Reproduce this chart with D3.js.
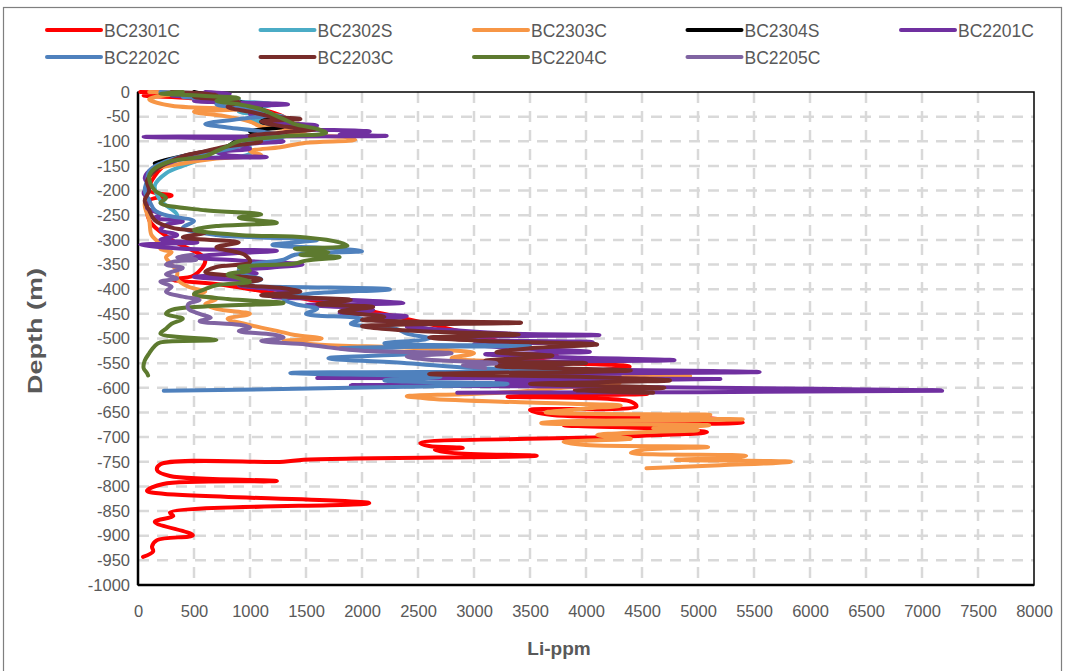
<!DOCTYPE html>
<html>
<head>
<meta charset="utf-8">
<script src="https://cdn.jsdelivr.net/npm/d3@7"></script>
<style>
  html, body { margin: 0; padding: 0; background: #fff; }
  svg text { font-family: "Liberation Sans", Arial, sans-serif; fill: #595959; }
</style>
</head>
<body>
<svg id="chart" width="1065" height="671"></svg>
<script>
// Li concentration (ppm) against depth (m) for each drill hole: [depth, Li-ppm]
const BC2301C = [[0,20],[-3,600],[-7,50],[-12,450],[-18,700],[-25,900],[-35,1100],[-50,1300],[-70,1400],[-90,1200],[-110,900],[-140,300],[-170,150],[-200,100],[-210,300],[-220,100],[-260,100],[-300,300],[-340,600],[-372,500],[-380,300],[-392,780],[-420,1500],[-450,2200],[-487,2900],[-510,3300],[-534,3740],[-545,3400],[-557,4390],[-575,3800],[-590,4100],[-605,3900],[-612,4550],[-618,3300],[-628,4400],[-638,4450],[-645,3500],[-655,3700],[-662,5100],[-670,5400],[-676,3800],[-684,4800],[-690,5080],[-700,4200],[-712,2520],[-718,2600],[-722,2900],[-726,2650],[-732,2800],[-738,3560],[-746,1480],[-750,1300],[-755,200],[-767,170],[-779,285],[-789,1240],[-795,225],[-809,80],[-815,225],[-834,2065],[-853,285],[-860,315],[-872,150],[-899,490],[-909,170],[-922,125],[-932,135],[-943,45]];
const BC2302S = [[0,300],[-8,800],[-15,500],[-25,1200],[-40,900],[-50,1300],[-60,1000],[-75,1500],[-90,1250],[-105,1000],[-125,1000],[-135,600],[-150,400],[-165,250],[-190,150],[-220,200],[-250,350],[-270,250]];
const BC2303C = [[0,100],[-3,400],[-8,200],[-15,100],[-28,300],[-35,900],[-40,500],[-50,800],[-60,1000],[-70,1100],[-78,1500],[-85,1300],[-92,1870],[-97,1940],[-103,1500],[-112,1270],[-120,1000],[-128,1100],[-135,700],[-145,400],[-158,150],[-175,100],[-200,80],[-230,60],[-260,100],[-290,120],[-305,180],[-318,200],[-325,300],[-335,250],[-350,300],[-365,350],[-380,350],[-395,450],[-405,600],[-412,500],[-420,700],[-430,600],[-440,700],[-450,1000],[-460,800],[-470,950],[-478,1100],[-485,1250],[-493,1400],[-500,1640],[-505,1300],[-512,1600],[-520,2500],[-530,3000],[-540,2800],[-550,3400],[-560,3600],[-570,4200],[-576,4930],[-582,4000],[-590,4300],[-600,3800],[-608,3400],[-613,2900],[-617,2400],[-622,2600],[-630,3500],[-636,4310],[-642,4000],[-650,3640],[-655,5110],[-660,4500],[-664,5400],[-668,3800],[-672,3600],[-676,5100],[-682,4600],[-686,5000],[-690,4500],[-696,4100],[-703,4400],[-710,3800],[-716,4000],[-720,5090],[-726,4500],[-732,4400],[-738,5430],[-742,5300],[-746,4800],[-750,5830],[-757,5200],[-763,4540]];
const BC2304S = [[0,500],[-10,700],[-20,900],[-30,1100],[-40,1000],[-50,1200],[-60,1100],[-70,1300],[-80,1000],[-85,1050],[-95,900],[-110,800],[-125,500],[-138,250],[-145,150]];
const BC2201C = [[0,600],[-3,820],[-7,300],[-12,700],[-18,500],[-25,1340],[-30,900],[-38,1100],[-45,1000],[-52,1300],[-60,1200],[-68,1600],[-74,1400],[-80,2070],[-86,1800],[-89,2220],[-91,50],[-95,1000],[-100,1300],[-108,900],[-115,1000],[-122,700],[-128,800],[-132,1150],[-136,400],[-142,300],[-150,200],[-160,100],[-175,60],[-190,100],[-205,50],[-220,100],[-235,80],[-248,200],[-255,150],[-262,400],[-270,250],[-280,200],[-290,350],[-300,200],[-305,530],[-310,20],[-318,400],[-322,1240],[-328,800],[-335,500],[-342,900],[-350,1470],[-356,1200],[-362,900],[-368,1060],[-375,500],[-385,1000],[-392,900],[-400,1200],[-408,1380],[-415,1200],[-420,1700],[-428,2370],[-432,1500],[-437,1900],[-442,2100],[-448,1800],[-455,2400],[-462,2100],[-470,2600],[-476,2400],[-483,2800],[-490,3300],[-493,4120],[-498,2700],[-503,3000],[-507,4060],[-512,3000],[-520,3400],[-527,4035],[-532,3100],[-538,3800],[-544,4790],[-548,3000],[-553,3800],[-558,3300],[-563,4000],[-566,5130],[-568,5550],[-572,3500],[-576,4300],[-580,1600],[-582,5200],[-587,3200],[-592,4100],[-595,1900],[-597,3400],[-602,6060],[-606,7180],[-610,2850]];
const BC2202C = [[0,200],[-5,600],[-10,400],[-15,900],[-25,700],[-35,1000],[-45,1200],[-55,900],[-65,600],[-72,800],[-80,1100],[-90,1300],[-100,1000],[-110,900],[-120,700],[-130,400],[-145,200],[-160,100],[-180,80],[-200,60],[-220,100],[-240,150],[-250,250],[-262,500],[-275,400],[-290,700],[-300,1600],[-310,1200],[-318,1800],[-323,2000],[-330,1400],[-340,1300],[-350,1000],[-360,900],[-370,950],[-380,1100],[-390,900],[-400,2250],[-410,1500],[-420,1300],[-430,1400],[-440,1600],[-450,1500],[-460,2000],[-470,1900],[-480,2300],[-490,2400],[-500,2600],[-510,2200],[-515,3500],[-520,1800],[-530,2500],[-540,1700],[-550,2400],[-560,3000],[-566,3770],[-570,1360],[-578,2700],[-585,2200],[-592,3300],[-598,2400],[-606,230]];
const BC2203C = [[0,300],[-5,700],[-10,500],[-20,900],[-30,800],[-40,1000],[-50,1200],[-55,1450],[-60,1100],[-70,1300],[-75,1600],[-82,1300],[-90,1000],[-100,1100],[-110,800],[-120,600],[-130,400],[-145,250],[-160,150],[-180,80],[-200,100],[-220,60],[-240,100],[-260,150],[-275,300],[-285,600],[-295,400],[-305,900],[-315,700],[-330,950],[-345,1000],[-355,700],[-365,600],[-372,800],[-380,1100],[-390,900],[-398,1300],[-405,1450],[-412,1100],[-422,1900],[-430,1600],[-436,2100],[-445,1800],[-456,2200],[-462,2000],[-468,3420],[-475,2000],[-485,2500],[-492,3400],[-498,2600],[-505,3100],[-512,4100],[-520,3500],[-528,3200],[-535,3700],[-545,3100],[-550,4000],[-556,3200],[-565,4400],[-572,2600],[-578,4000],[-585,4750],[-592,3500],[-600,4700],[-606,3900],[-610,4600]];
const BC2204C = [[0,400],[-3,200],[-8,600],[-12,900],[-18,700],[-25,900],[-35,1100],[-45,1200],[-55,1300],[-65,1400],[-75,1600],[-83,1680],[-90,1300],[-100,900],[-110,800],[-120,700],[-130,600],[-140,300],[-155,150],[-170,100],[-185,110],[-200,150],[-215,250],[-225,200],[-240,600],[-248,1100],[-255,900],[-265,1240],[-272,700],[-280,500],[-290,900],[-295,1500],[-305,1800],[-312,1870],[-318,1400],[-325,1700],[-330,1450],[-335,1800],[-342,1500],[-348,1400],[-355,900],[-362,1000],[-370,800],[-378,900],[-385,1000],[-392,700],[-400,600],[-410,500],[-420,800],[-428,1300],[-435,600],[-442,300],[-450,250],[-460,400],[-470,300],[-480,250],[-490,200],[-503,700],[-508,200],[-515,150],[-530,100],[-545,60],[-560,50],[-570,80],[-575,90]];
const BC2205C = [[-330,490],[-335,350],[-340,520],[-345,300],[-350,250],[-357,400],[-365,300],[-370,250],[-378,350],[-385,200],[-395,300],[-405,250],[-415,400],[-422,550],[-430,450],[-440,450],[-450,550],[-458,650],[-465,550],[-472,900],[-478,1000],[-485,900],[-492,1200],[-498,1300],[-505,1100],[-512,1500],[-518,1700],[-525,2000],[-530,2800],[-537,2400],[-543,2600],[-550,3200],[-555,2900],[-560,3100]];

const seriesNames = ["BC2301C","BC2302S","BC2303C","BC2304S","BC2201C","BC2202C","BC2203C","BC2204C","BC2205C"];
const seriesValues = [BC2301C,BC2302S,BC2303C,BC2304S,BC2201C,BC2202C,BC2203C,BC2204C,BC2205C];
const seriesColors = ["#FF0000","#4BACC6","#F79646","#000000","#7030A0","#4F81BD","#772C2A","#5D7A2F","#8064A2"];

const xTicks = d3.range(0, 8001, 500);
const yTicks = d3.range(0, -1001, -50);

const svg = d3.select("#chart");

// outer chart frame
svg.append("rect")
  .attr("x", 3.5).attr("y", 7.5).attr("width", 1058).attr("height", 700)
  .attr("fill", "none").attr("stroke", "#7f7f7f").attr("stroke-width", 1.2);

const plot = { left: 138, right: 1034, top: 92, bottom: 585 };
const x = d3.scaleLinear().domain([0, 8000]).range([plot.left, plot.right]);
const y = d3.scaleLinear().domain([0, -1000]).range([plot.top, plot.bottom]);

// dashed grid
const grid = svg.append("g");
grid.selectAll("line.v").data(xTicks.slice(1, -1)).join("line")
  .attr("x1", d => x(d)).attr("x2", d => x(d))
  .attr("y1", plot.top).attr("y2", plot.bottom)
  .attr("stroke", "#d9d9d9").attr("stroke-width", 2.5).attr("stroke-dasharray", "11,8");
grid.selectAll("line.h").data(yTicks.slice(1, -1)).join("line")
  .attr("x1", plot.left).attr("x2", plot.right)
  .attr("y1", d => y(d)).attr("y2", d => y(d))
  .attr("stroke", "#d9d9d9").attr("stroke-width", 2.5).attr("stroke-dasharray", "11,8");

// plot border
svg.append("rect")
  .attr("x", plot.left).attr("y", plot.top)
  .attr("width", plot.right - plot.left).attr("height", plot.bottom - plot.top)
  .attr("fill", "none").attr("stroke", "#000").attr("stroke-width", 1.5);

// axes (plain ASCII hyphen for negative depths)
const plain = d => String(d);
const xAxis = d3.axisBottom(x).tickValues(xTicks).tickFormat(plain).tickSize(0).tickPadding(20);
const yAxis = d3.axisLeft(y).tickValues(yTicks).tickFormat(plain).tickSize(0).tickPadding(8);
const gx = svg.append("g").attr("transform", `translate(0,${plot.bottom})`).call(xAxis);
const gy = svg.append("g").attr("transform", `translate(${plot.left},0)`).call(yAxis);
[gx, gy].forEach(g => {
  g.select(".domain").remove();
  g.selectAll("text").style("font-size", "16.5px").style("fill", "#595959")
    .style("font-family", "'Liberation Sans', Arial, sans-serif");
});
svg.append("line")
  .attr("x1", plot.left).attr("x2", plot.left).attr("y1", plot.top).attr("y2", plot.bottom)
  .attr("stroke", "#000").attr("stroke-width", 2.5);
svg.append("line")
  .attr("x1", plot.left).attr("x2", plot.right).attr("y1", plot.bottom).attr("y2", plot.bottom)
  .attr("stroke", "#000").attr("stroke-width", 2.5);

// axis titles
svg.append("text")
  .attr("x", 559).attr("y", 655).attr("text-anchor", "middle")
  .style("font-size", "19px").style("font-weight", "bold")
  .text("Li-ppm");
svg.append("text")
  .attr("transform", "translate(42,331) rotate(-90)")
  .attr("text-anchor", "middle")
  .attr("textLength", 126).attr("lengthAdjust", "spacingAndGlyphs")
  .style("font-size", "20px").style("font-weight", "bold")
  .text("Depth (m)");

// profiles
const line = d3.line()
  .x(d => x(d[1]))
  .y(d => y(d[0]))
  .curve(d3.curveCatmullRom.alpha(0.5));

svg.append("g").selectAll("path").data(seriesValues).join("path")
  .attr("d", line)
  .attr("fill", "none")
  .attr("stroke", (d, i) => seriesColors[i])
  .attr("stroke-width", 4)
  .attr("stroke-linejoin", "round")
  .attr("stroke-linecap", "round");

// legend
const legend = svg.append("g");
const items = legend.selectAll("g").data(seriesNames).join("g")
  .attr("transform", (d, i) => `translate(${47 + (i % 5) * 213.5},${i < 5 ? 30 : 57})`);
items.append("line")
  .attr("x1", 0).attr("x2", 54).attr("y1", 0).attr("y2", 0)
  .attr("stroke", (d, i) => seriesColors[i]).attr("stroke-width", 4).attr("stroke-linecap", "round");
items.append("text")
  .attr("x", 57).attr("y", 6.5)
  .style("font-size", "17.5px")
  .text(d => d);
</script>
</body>
</html>
